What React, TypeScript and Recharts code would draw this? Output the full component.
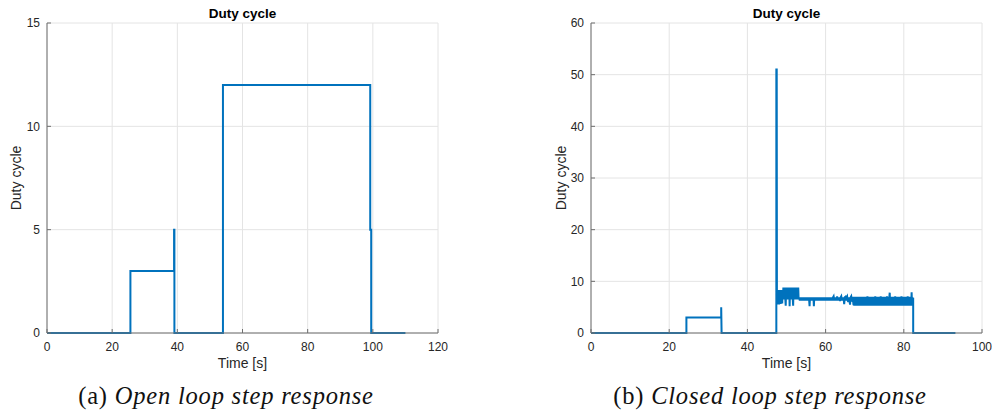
import { CartesianGrid, Line, LineChart, XAxis, YAxis } from "recharts";

// [time s, duty] samples
const openLoopSamples: [number, number][] = [
  [0, 0], [25.6, 0], [25.6, 3], [39.0, 3], [39.0, 5], [39.1, 5], [39.1, 0],
  [54.0, 0], [54.0, 12], [99.2, 12], [99.2, 5], [99.5, 5], [99.5, 0], [110, 0],
];

// [time s, duty] samples (the chatter is estimated by eye)
const closedLoopSamples: [number, number][] = [
  [0, 0], [24.4, 0], [24.4, 3], [33.3, 3], [33.3, 5], [33.4, 0], [47.4, 0],
  [47.4, 51], [47.5, 51], [47.55, 6.5],
  // start-up chatter
  [47.6, 8.2], [47.7, 5.5], [47.8, 8.3], [47.9, 5.8], [48.0, 8.2], [48.1, 5.5],
  [48.2, 8.3], [48.3, 6.0], [48.4, 8.2], [48.5, 5.6], [48.6, 8.3], [48.7, 6.2],
  [48.8, 8.2], [48.9, 5.7], [49.0, 8.3],
  [49.1, 6.5], [49.2, 8.8], [49.3, 6.6], [49.4, 8.8], [49.5, 6.5], [49.6, 8.8],
  [49.7, 6.6], [49.8, 5.3], [49.9, 8.8], [50.0, 6.5], [50.1, 8.8], [50.2, 6.6],
  [50.3, 8.8], [50.4, 6.5], [50.5, 8.8], [50.6, 6.6], [50.7, 8.8], [50.8, 5.2],
  [50.9, 8.8], [51.0, 6.5], [51.1, 8.8], [51.2, 6.6], [51.3, 8.8], [51.4, 6.5],
  [51.5, 8.8], [51.6, 6.6], [51.7, 5.3], [51.8, 8.8], [51.9, 6.5], [52.0, 8.8],
  [52.1, 6.6], [52.2, 8.8], [52.3, 6.5], [52.4, 8.8], [52.5, 6.6], [52.6, 8.8],
  [52.7, 6.5], [52.8, 8.8], [52.9, 6.6], [53.0, 8.8], [53.1, 6.5],
  // quieter stretch
  [53.25, 6.9], [53.4, 6.3], [53.55, 6.9], [53.7, 6.3], [53.85, 6.9], [54.0, 6.3], [54.15, 6.9], [54.3, 6.3], [54.45, 6.9], [54.6, 6.3],
  [54.75, 6.9], [54.9, 6.3], [55.05, 6.9], [55.2, 6.3], [55.35, 6.9], [55.5, 6.3], [55.65, 6.9], [55.8, 6.3], [55.9, 5.2], [56.0, 6.9],
  [56.15, 6.3], [56.3, 6.9], [56.45, 6.3], [56.6, 6.9], [56.75, 6.3], [56.9, 6.9], [57.0, 5.2], [57.1, 6.9], [57.25, 6.3], [57.4, 6.9],
  [57.55, 6.3], [57.7, 6.9], [57.85, 6.3], [58.0, 6.9], [58.15, 6.3], [58.3, 6.9], [58.45, 6.3], [58.6, 6.9], [58.75, 6.3], [58.9, 6.9],
  [59.05, 6.3], [59.2, 6.9], [59.35, 6.3], [59.5, 6.9], [59.65, 6.3], [59.8, 6.9], [59.95, 6.3], [60.1, 6.9], [60.25, 6.3], [60.4, 6.9],
  [60.55, 6.3], [60.7, 6.9], [60.85, 6.3], [61.0, 6.9], [61.15, 6.3], [61.3, 6.9], [61.45, 6.3], [61.6, 6.9], [61.75, 6.3], [61.9, 6.9],
  [62.05, 7.1], [62.2, 6.3], [62.35, 6.9], [62.5, 6.3], [62.65, 6.9], [62.8, 6.3], [62.95, 7.1], [63.1, 6.3], [63.25, 6.9], [63.4, 6.3],
  [63.55, 6.9], [63.7, 6.2], [63.85, 6.9], [64.0, 7.1], [64.15, 6.3], [64.3, 6.9], [64.45, 6.3], [64.6, 6.9], [64.75, 5.6], [64.9, 6.9],
  [65.05, 7.0], [65.2, 6.3], [65.35, 6.9], [65.5, 7.1], [65.65, 6.3], [65.8, 6.0], [65.95, 6.9], [66.1, 6.3], [66.25, 5.5], [66.4, 6.9],
  [66.55, 7.1], [66.7, 6.3], [66.85, 6.2], [67.0, 7.0], [67.1, 5.6],
  // dense chatter until the step down
  [67.2, 5.4], [67.3, 6.9], [67.4, 5.3], [67.5, 7.0], [67.6, 5.5], [67.7, 6.9], [67.8, 5.3], [67.9, 7.0], [68.0, 5.4], [68.1, 6.9],
  [68.2, 5.3], [68.3, 7.0], [68.4, 5.5], [68.5, 6.9], [68.6, 5.3], [68.7, 7.0], [68.8, 5.4], [68.9, 6.9], [69.0, 5.3], [69.1, 7.0],
  [69.2, 5.4], [69.3, 6.9], [69.4, 5.3], [69.5, 7.0], [69.6, 5.5], [69.7, 6.9], [69.8, 5.3], [69.9, 7.0], [70.0, 5.4], [70.1, 6.9],
  [70.2, 5.3], [70.3, 7.0], [70.4, 5.4], [70.5, 6.9], [70.6, 5.3], [70.7, 7.1], [70.8, 5.5], [70.9, 6.9], [71.0, 5.3], [71.1, 7.0],
  [71.2, 5.4], [71.3, 6.9], [71.4, 5.3], [71.5, 7.0], [71.6, 5.4], [71.7, 6.9], [71.8, 5.3], [71.9, 7.0], [72.0, 5.5], [72.1, 6.9],
  [72.2, 5.3], [72.3, 7.0], [72.4, 5.4], [72.5, 6.9], [72.6, 5.3], [72.7, 7.1], [72.8, 5.4], [72.9, 6.9], [73.0, 5.3], [73.1, 7.0],
  [73.2, 5.4], [73.3, 6.9], [73.4, 5.3], [73.5, 7.0], [73.6, 5.5], [73.7, 6.9], [73.8, 5.3], [73.9, 7.0], [74.0, 5.4], [74.1, 7.1],
  [74.2, 5.3], [74.3, 6.9], [74.4, 5.4], [74.5, 7.0], [74.6, 5.3], [74.7, 6.9], [74.8, 5.5], [74.9, 7.0], [75.0, 5.3], [75.1, 6.9],
  [75.2, 5.4], [75.3, 7.0], [75.4, 5.3], [75.5, 6.9], [75.6, 5.4], [75.7, 7.1], [75.8, 5.3], [75.9, 6.9], [76.0, 5.4], [76.1, 7.0],
  [76.2, 5.3], [76.3, 6.9], [76.4, 7.8], [76.5, 5.4], [76.6, 7.0], [76.7, 5.3], [76.8, 6.9], [76.9, 5.5], [77.0, 7.0], [77.1, 5.3],
  [77.2, 6.9], [77.3, 5.4], [77.4, 7.0], [77.5, 5.3], [77.6, 6.9], [77.7, 5.4], [77.8, 7.1], [77.9, 5.3], [78.0, 6.9], [78.1, 5.4],
  [78.2, 7.0], [78.3, 5.3], [78.4, 6.9], [78.5, 5.5], [78.6, 7.0], [78.7, 5.3], [78.8, 6.9], [78.9, 5.4], [79.0, 7.0], [79.1, 5.3],
  [79.2, 6.9], [79.3, 5.4], [79.4, 7.1], [79.5, 5.3], [79.6, 6.9], [79.7, 5.4], [79.8, 7.0], [79.9, 5.3], [80.0, 6.9], [80.1, 5.5],
  [80.2, 7.0], [80.3, 5.3], [80.4, 6.9], [80.5, 5.4], [80.6, 7.0], [80.7, 5.3], [80.8, 6.9], [80.9, 5.4], [81.0, 7.1], [81.1, 5.3],
  [81.2, 6.9], [81.3, 5.4], [81.4, 7.0], [81.5, 5.3], [81.6, 6.9], [81.7, 5.5], [81.8, 7.0], [81.9, 5.3], [82.0, 7.9], [82.1, 5.4],
  [82.2, 6.9], [82.3, 5.3], [82.4, 6.8], [82.4, 0], [93.2, 0],
];

const openXTicks = [0, 20, 40, 60, 80, 100, 120];
const openYTicks = [0, 5, 10, 15];
const closedXTicks = [0, 20, 40, 60, 80, 100];
const closedYTicks = [0, 10, 20, 30, 40, 50, 60];

const toRows = (samples: [number, number][]) => samples.map(([t, duty]) => ({ t, duty }));

const AXIS = "#6e6e6e";
const SANS = "'Liberation Sans', Arial, sans-serif";

const XTick = (props: any) => {
  const { x, y, payload } = props;
  const axisY = y - 9;
  return (
    <g>
      <line x1={x} x2={x} y1={axisY} y2={axisY - 4} stroke={AXIS} />
      <text x={x} y={y} dy="0.71em" textAnchor="middle" fontSize={12} fontFamily={SANS} fill="#262626">
        {payload.value}
      </text>
    </g>
  );
};

const YTick = (props: any) => {
  const { x, y, payload } = props;
  const axisX = x + 7;
  return (
    <g>
      <line x1={axisX} x2={axisX + 4} y1={y} y2={y} stroke={AXIS} />
      <text x={x} y={y} dy="0.35em" textAnchor="end" fontSize={12} fontFamily={SANS} fill="#262626">
        {payload.value}
      </text>
    </g>
  );
};

type PanelProps = {
  left: number;
  samples: [number, number][];
  xTicks: number[];
  yTicks: number[];
  tag: string;
  caption: string;
  captionCenter: number;
  yLabelX: number;
};

function Panel({ left, samples, xTicks, yTicks, tag, caption, captionCenter, yLabelX }: PanelProps) {
  const plotCenter = left + 47 + 391 / 2;
  const labelStyle: React.CSSProperties = {
    position: "absolute",
    fontFamily: SANS,
    fontSize: 14,
    color: "#262626",
    whiteSpace: "nowrap",
    lineHeight: "16px",
    textAlign: "center",
  };
  return (
    <>
      <div style={{ ...labelStyle, left: plotCenter - 100, width: 200, top: 6, fontSize: 13.5, fontWeight: "bold", color: "#000" }}>
        Duty cycle
      </div>
      <div style={{ ...labelStyle, left: yLabelX - 50, top: 170, width: 100, transform: "rotate(-90deg)" }}>
        Duty cycle
      </div>
      <div style={{ ...labelStyle, left: plotCenter - 100, width: 200, top: 355 }}>Time [s]</div>
      <div
        style={{
          position: "absolute",
          left: captionCenter - 200,
          width: 400,
          top: 382,
          textAlign: "center",
          fontFamily: "'Liberation Serif', serif",
          fontSize: 24.5,
          letterSpacing: 0.8,
          color: "#111",
          whiteSpace: "nowrap",
        }}
      >
        {tag} <i>{caption}</i>
      </div>
      <div style={{ position: "absolute", left, top: 0 }}>
        <LineChart width={460} height={363} data={toRows(samples)} margin={{ top: 23, right: 22, bottom: 0, left: 0 }}>
          <CartesianGrid stroke="#e4e4e4" />
          <XAxis
            dataKey="t"
            type="number"
            domain={[xTicks[0], xTicks[xTicks.length - 1]]}
            ticks={xTicks}
            interval={0}
            height={30}
            stroke={AXIS}
            tickLine={false}
            tickSize={0}
            tickMargin={9}
            tick={<XTick />}
          />
          <YAxis
            type="number"
            domain={[yTicks[0], yTicks[yTicks.length - 1]]}
            ticks={yTicks}
            interval={0}
            width={47}
            stroke={AXIS}
            tickLine={false}
            tickSize={0}
            tickMargin={7}
            tick={<YTick />}
          />
          <Line dataKey="duty" type="linear" stroke="#0072BD" strokeWidth={2} dot={false} isAnimationActive={false} />
        </LineChart>
      </div>
    </>
  );
}

export default function App() {
  return (
    <div style={{ position: "fixed", left: 0, top: 0, width: 992, height: 414, background: "#fff", overflow: "hidden" }}>
      <Panel
        left={0}
        samples={openLoopSamples}
        xTicks={openXTicks}
        yTicks={openYTicks}
        tag="(a)"
        caption="Open loop step response"
        captionCenter={226}
        yLabelX={16}
      />
      <Panel
        left={544}
        samples={closedLoopSamples}
        xTicks={closedXTicks}
        yTicks={closedYTicks}
        tag="(b)"
        caption="Closed loop step response"
        captionCenter={770}
        yLabelX={561}
      />
    </div>
  );
}
